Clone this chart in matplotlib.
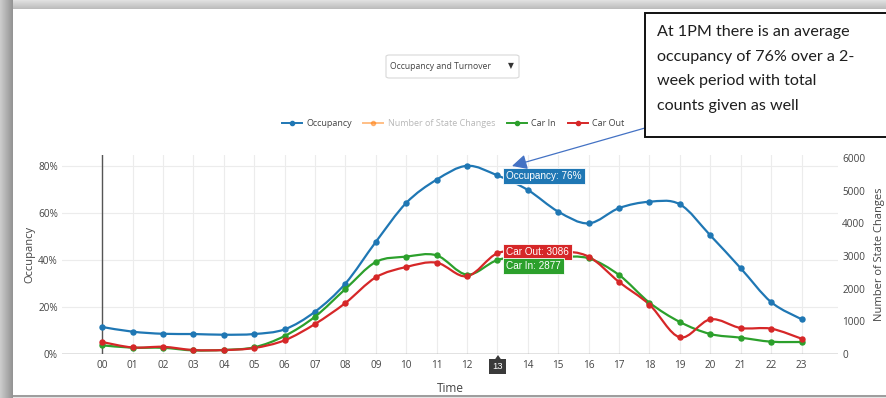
import numpy as np
import matplotlib
matplotlib.use("Agg")
import matplotlib.pyplot as plt
from matplotlib.path import Path
from matplotlib.patches import PathPatch, Rectangle, FancyBboxPatch, Polygon, FancyArrowPatch
from matplotlib.lines import Line2D

# ---- data -------------------------------------------------------------
hours = ["00", "01", "02", "03", "04", "05", "06", "07", "08", "09", "10", "11",
         "12", "13", "14", "15", "16", "17", "18", "19", "20", "21", "22", "23"]
occupancy = [11.5, 9.5, 8.6, 8.5, 8.2, 8.5, 10.5, 18.0, 30.0, 47.7, 64.3, 74.2,
             80.1, 76.0, 69.8, 60.6, 55.6, 62.1, 64.8, 63.7, 50.5, 36.5, 22.1, 14.8]
car_in = [266, 193, 190, 110, 125, 205, 551, 1142, 1990, 2816, 2980, 3020,
          2429, 2877, 3000, 2980, 2929, 2418, 1571, 980, 612, 500, 377, 367]
car_out = [367, 200, 220, 122, 120, 184, 419, 918, 1561, 2347, 2663, 2796,
           2378, 3086, 3122, 3153, 2980, 2204, 1510, 510, 1061, 796, 775, 469]
left_ticks = [0, 20, 40, 60, 80]
right_ticks = [0, 1000, 2000, 3000, 4000, 5000, 6000]
hover_hour = 13

C_OCC = "#1f77b4"
C_NSC = "#ff7f0e"
C_IN = "#2ca02c"
C_OUT = "#d62728"
TXT = "#444444"

W, H = 886, 398
fig = plt.figure(figsize=(W / 100, H / 100), dpi=100)
fig.patch.set_facecolor("white")


def fx(px):
    return px / W


def fy(py):
    return 1 - py / H


# ---- page frame with drop shadow ---------------------------------------
bg = np.ones((H, W, 3))
for i in range(13):
    v = 0.80 - 0.22 * (i / 12)
    bg[:, i, :] = v
for j in range(9):
    v = 0.88 - 0.14 * (j / 8)
    bg[j, 13:, :] = np.minimum(bg[j, 13:, :], v)
bg[395:397, 13:, :] = 0.62
bg[397:, 13:, :] = 0.9
bax = fig.add_axes([0, 0, 1, 1], zorder=-5)
bax.imshow(bg, aspect="auto", extent=(0, 1, 0, 1), interpolation="bilinear")
bax.set_axis_off()

# ---- main axes -----------------------------------------------------------
x = np.arange(len(hours))
ax = fig.add_axes([fx(62), fy(354), fx(838) - fx(62), fy(155) - fy(354)])
ax.set_facecolor("none")
ax2 = ax.twinx()
ax.set_xlim(-1.32, 24.2)
ax.set_ylim(0, 84.7)
ax2.set_ylim(0, 6092)

for a in (ax, ax2):
    for s in a.spines.values():
        s.set_visible(False)

ax.set_xticks(x)
ax.set_xticklabels(hours)
ax.set_yticks(left_ticks)
ax.set_yticklabels([f"{t}%" for t in left_ticks])
ax2.set_yticks(right_ticks)
ax2.set_yticklabels([str(t) for t in right_ticks])
ax.grid(True, color="#ececec", linewidth=0.8)
ax.set_axisbelow(True)
for a in (ax, ax2):
    a.tick_params(length=0, labelsize=7.2, labelcolor=TXT, pad=3)
    for lab in a.get_xticklabels() + a.get_yticklabels():
        lab.set_fontfamily("Open Sans")
ax.tick_params(axis="x", pad=4)

ax.axhline(0, color="#777777", linewidth=1.0, zorder=2)
ax.axvline(0, color="#555555", linewidth=1.0, zorder=2)

ax.set_xlabel("Time", fontsize=8.5, color=TXT, family="Open Sans", labelpad=8)
ax.set_ylabel("Occupancy", fontsize=8, color=TXT, family="Open Sans", labelpad=2)
ax2.set_ylabel("Number of State Changes", fontsize=8, color=TXT, family="Open Sans",
               labelpad=6)


def spline_path(xs, ys):
    xs = np.asarray(xs, float)
    ys = np.asarray(ys, float)
    pts = np.column_stack([xs, ys])
    n = len(pts)
    verts = [pts[0]]
    codes = [Path.MOVETO]
    for i in range(n - 1):
        p0 = pts[i - 1] if i > 0 else pts[i]
        p1 = pts[i]
        p2 = pts[i + 1]
        p3 = pts[i + 2] if i + 2 < n else pts[i + 1]
        c1 = p1 + (p2 - p0) / 6.0
        c2 = p2 - (p3 - p1) / 6.0
        verts += [c1, c2, p2]
        codes += [Path.CURVE4] * 3
    return Path(verts, codes)


def draw_series(a, ys, color):
    a.add_patch(PathPatch(spline_path(x, ys), facecolor="none", edgecolor=color,
                          linewidth=1.6, zorder=3, capstyle="round"))
    a.plot(x, ys, "o", color=color, markersize=3.6, zorder=4)


draw_series(ax2, car_in, C_IN)
draw_series(ax2, car_out, C_OUT)
draw_series(ax, occupancy, C_OCC)
ax.set_zorder(2)
ax2.set_zorder(3)
ax2.set_facecolor("none")

# ---- hover labels --------------------------------------------------------
hv = dict(fontsize=7.2, color="white", family="Liberation Sans", va="center", ha="left",
          zorder=10, annotation_clip=False)
ax.annotate(f"Occupancy: {occupancy[hover_hour]:.0f}%", (hover_hour, occupancy[hover_hour]),
            xytext=(6.5, -0.5), textcoords="offset points",
            bbox=dict(boxstyle="square,pad=0.3", fc=C_OCC, ec="white", lw=0.6), **hv)
ax2.annotate(f"Car Out: {car_out[hover_hour]}", (hover_hour, car_out[hover_hour]),
             xytext=(6.5, 0.5), textcoords="offset points",
             bbox=dict(boxstyle="square,pad=0.3", fc=C_OUT, ec="white", lw=0.6), **hv)
ax2.annotate(f"Car In: {car_in[hover_hour]}", (hover_hour, car_in[hover_hour]),
             xytext=(6.5, -4), textcoords="offset points",
             bbox=dict(boxstyle="square,pad=0.3", fc=C_IN, ec="white", lw=0.6), **hv)

# x spike label covering the hovered tick
ax.get_xticklabels()[hover_hour].set_visible(False)
ax.annotate(hours[hover_hour], (hover_hour, 0), xytext=(0, -9), textcoords="offset points",
            fontsize=6.8, color="white", family="Liberation Sans", ha="center", va="center",
            bbox=dict(boxstyle="square,pad=0.35", fc="#3a3a3a", ec="none"),
            annotation_clip=False, zorder=10)
xp = fx(498)
fig.patches.append(Polygon([[xp - fx(3.5), fy(360)], [xp + fx(3.5), fy(360)], [xp, fy(355)]],
                           closed=True, transform=fig.transFigure, fc="#3a3a3a", ec="none"))

# ---- legend --------------------------------------------------------------
handles = [
    Line2D([], [], color=C_OCC, marker="o", markersize=3, linewidth=1.4),
    Line2D([], [], color=C_NSC, marker="o", markersize=3, linewidth=1.4, alpha=0.5),
    Line2D([], [], color=C_IN, marker="o", markersize=3, linewidth=1.4),
    Line2D([], [], color=C_OUT, marker="o", markersize=3, linewidth=1.4),
]
labels = ["Occupancy", "Number of State Changes", "Car In", "Car Out"]
leg = fig.legend(handles, labels, loc="center", bbox_to_anchor=(fx(453), fy(124)), ncol=4,
                 frameon=False, handlelength=2.2, handletextpad=0.5,
                 columnspacing=1.3, prop={"family": "Open Sans", "size": 6.5})
for t in leg.get_texts():
    t.set_color(TXT)
leg.get_texts()[1].set_color("#b8b8b8")

# ---- dropdown ------------------------------------------------------------
fig.patches.append(FancyBboxPatch((fx(386), fy(78)), fx(519) - fx(386), fy(55) - fy(78),
                                  boxstyle="round,pad=0,rounding_size=0.004",
                                  transform=fig.transFigure, fc="white", ec="#d8d8d8",
                                  lw=0.8))
fig.text(fx(440), fy(66.5), "Occupancy and Turnover", fontsize=6.2, color=TXT,
         family="Open Sans", ha="center", va="center")
fig.text(fx(511), fy(66), "\u25bc", fontsize=5.5, color="#333333", family="DejaVu Sans",
         ha="center", va="center")

# ---- call-out box --------------------------------------------------------
fig.patches.append(Rectangle((fx(645), fy(137)), fx(890) - fx(645), fy(13) - fy(137),
                             transform=fig.transFigure, fc="white", ec="#111111", lw=1.4,
                             zorder=20))
note = ["At 1PM there is an average", "occupancy of 76% over a 2-",
        "week period with total", "counts given as well"]
for k, line in enumerate(note):
    fig.text(fx(657), fy(32 + 24.7 * k), line, fontsize=11.6, color="#1e1e1e", family="Lato",
             ha="left", va="center", zorder=21)

fig.add_artist(FancyArrowPatch(
    (fx(645), fy(128)), (fx(512), fy(166)), transform=fig.transFigure,
    arrowstyle="-|>,head_length=9,head_width=4.5", color="#4472c4", lw=0.9,
    shrinkA=0, shrinkB=0, zorder=15))

fig.savefig("out.png", dpi=100)
